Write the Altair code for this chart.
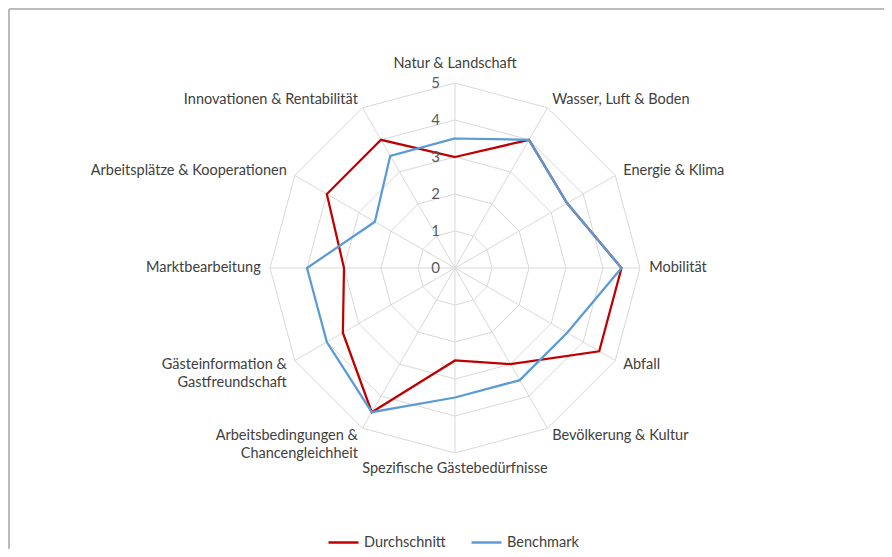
import altair as alt
import pandas as pd

categories = [
    "Natur & Landschaft", "Wasser, Luft & Boden", "Energie & Klima", "Mobilität",
    "Abfall", "Bevölkerung & Kultur", "Spezifische Gästebedürfnisse",
    "Arbeitsbedingungen &\nChancengleichheit", "Gästeinformation &\nGastfreundschaft",
    "Marktbearbeitung", "Arbeitsplätze & Kooperationen", "Innovationen & Rentabilität",
]
durchschnitt = [3, 4, 3.5, 4.5, 4.5, 3, 2.5, 4.5, 3.5, 3, 4, 4]
benchmark = [3.5, 4, 3.5, 4.5, 3.5, 3.5, 3.5, 4.5, 4, 4, 2.5, 3.5]
series_names = ["Durchschnitt", "Benchmark"]
series_colors = ["#c00000", "#5b9bd5"]
levels = [1, 2, 3, 4, 5]
tick_values = [0, 1, 2, 3, 4, 5]
tick_labels = ["0", "1", "2", "3", "4", "5"]

N = len(categories)
RMAX = max(levels)
W, H = 876, 541
UNIT = 37.0
CX, CY = 447, 260
FONT = "Lato"
TXT = "#404040"
FS = 14.5

rows = []
for name, vals in zip(series_names, [durchschnitt, benchmark]):
    for i, (c, v) in enumerate(zip(categories, vals)):
        rows.append({"i": i, "category": c, "series": name, "value": v})
series_df = pd.DataFrame(rows)
grid_df = pd.DataFrame([{"level": l, "i": i} for l in levels for i in range(N)])
spoke_df = pd.DataFrame({"i": list(range(N)), "r": [RMAX] * N})
label_df = pd.DataFrame({"i": list(range(N)), "category": categories})
tick_df = pd.DataFrame({"v": tick_values, "label": tick_labels})

ang = f"datum.i * 2 * PI / {N}"
xs = alt.Scale(domain=[-CX / UNIT, (W - CX) / UNIT], nice=False, zero=False)
ys = alt.Scale(domain=[-(H - CY) / UNIT, CY / UNIT], nice=False, zero=False)
X = alt.X("x:Q", scale=xs, axis=None)
Y = alt.Y("y:Q", scale=ys, axis=None)

grid = alt.Chart(grid_df).transform_calculate(
    x=f"datum.level * sin({ang})", y=f"datum.level * cos({ang})"
).mark_line(interpolate="linear-closed", stroke="#d9d9d9", strokeWidth=1).encode(
    x=X, y=Y, detail="level:N", order="i:Q"
)

spokes = alt.Chart(spoke_df).transform_calculate(
    x0="0", y0="0", x=f"datum.r * sin({ang})", y=f"datum.r * cos({ang})"
).mark_rule(stroke="#d9d9d9", strokeWidth=1).encode(
    x=alt.X("x0:Q", scale=xs, axis=None), y=alt.Y("y0:Q", scale=ys, axis=None),
    x2="x:Q", y2="y:Q"
)

color = alt.Color(
    "series:N",
    scale=alt.Scale(domain=series_names, range=series_colors),
    legend=alt.Legend(
        title=None, orient="none", legendX=319, legendY=518, direction="horizontal",
        symbolType="stroke", symbolSize=900, symbolStrokeWidth=2.5,
        labelFont=FONT, labelFontSize=FS, labelColor=TXT, labelOffset=4,
        columnPadding=20, padding=0,
    ),
)

def series_layer(name):
    return alt.Chart(series_df).transform_filter(
        alt.datum.series == name
    ).transform_calculate(
        x=f"datum.value * sin({ang})", y=f"datum.value * cos({ang})"
    ).mark_line(interpolate="linear-closed", strokeWidth=2.25).encode(
        x=X, y=Y, color=color, order="i:Q"
    )

lines = [series_layer(n) for n in series_names]

LR = 5.25
lab_base = alt.Chart(label_df).transform_calculate(
    s=f"sin({ang})", c=f"cos({ang})",
    x=f"{LR} * sin({ang})", y=f"{LR} * cos({ang})",
)
text_kw = dict(font=FONT, fontSize=FS, color=TXT, lineBreak="\n", lineHeight=18)
lab_right = lab_base.transform_filter("datum.s > 0.1").mark_text(
    align="left", baseline="middle", **text_kw).encode(x=X, y=Y, text="category:N")
lab_left = lab_base.transform_filter("datum.s < -0.1").mark_text(
    align="right", baseline="middle", **text_kw).encode(x=X, y=Y, text="category:N")
lab_top = lab_base.transform_filter("abs(datum.s) <= 0.1 && datum.c > 0").mark_text(
    align="center", baseline="bottom", dy=-3, **text_kw).encode(x=X, y=Y, text="category:N")
lab_bottom = lab_base.transform_filter("abs(datum.s) <= 0.1 && datum.c < 0").mark_text(
    align="center", baseline="top", **text_kw).encode(x=X, y=Y, text="category:N")

ticks = alt.Chart(tick_df).transform_calculate(x="0", y="datum.v").mark_text(
    align="right", baseline="middle", dx=-15, font=FONT, fontSize=15, color="#595959"
).encode(x=X, y=Y, text="label:N")

frame_src = pd.DataFrame({"k": [0]})
frame_top = alt.Chart(frame_src).mark_rule(stroke="#a6a6a6", strokeWidth=1.5).encode(
    x=alt.value(1), x2=alt.value(W), y=alt.value(1))
frame_left = alt.Chart(frame_src).mark_rule(stroke="#a6a6a6", strokeWidth=1.5).encode(
    x=alt.value(1), y=alt.value(1), y2=alt.value(H))

chart = alt.layer(
    frame_top, frame_left, grid, spokes, *lines, lab_right, lab_left, lab_top, lab_bottom, ticks
).properties(
    width=W, height=H, padding=0, autosize=alt.AutoSizeParams(type="none")
).configure_view(stroke=None)

chart.save("out.html", embed_options={"renderer": "svg", "actions": False})
